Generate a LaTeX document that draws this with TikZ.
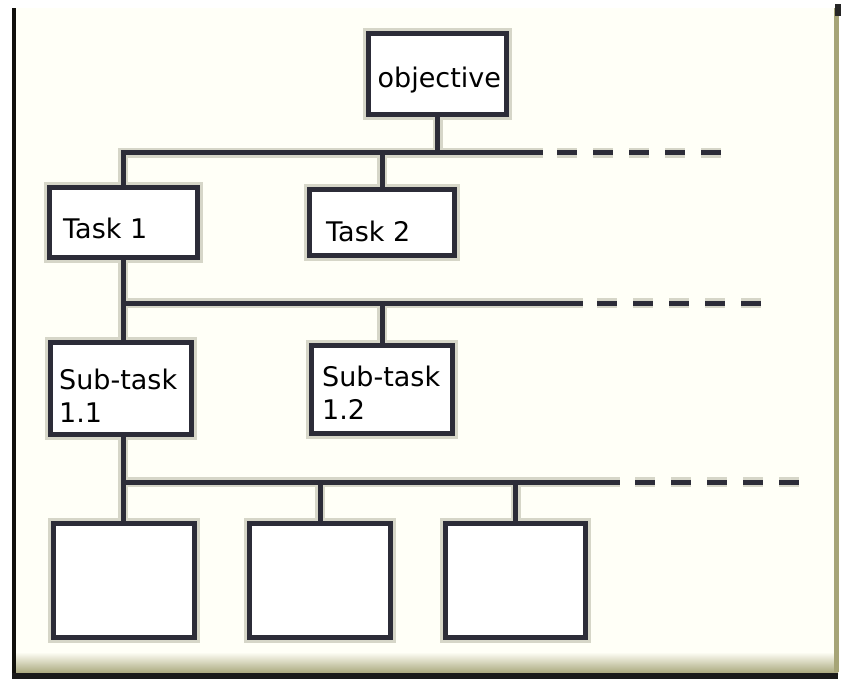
\documentclass[tikz,border=0pt]{standalone}
\usepackage{fontspec}
\setmainfont{DejaVu Sans}
\usetikzlibrary{positioning}

\definecolor{wirecol}{HTML}{2C2C38}
\definecolor{halocol}{HTML}{D6D6C8}
\definecolor{paper}{HTML}{FFFFF7}
\definecolor{olivebar}{HTML}{A6A477}

\begin{document}
\begin{tikzpicture}[x=1pt, y=-1pt, box/.style={rectangle, draw=wirecol, fill=white, line width=5pt, inner sep=0pt, minimum width=141pt, preaction={draw=halocol, line width=11pt}}, wire/.style={draw=wirecol, line width=5pt, preaction={draw=halocol, line width=10pt}}, dashwire/.style={draw=wirecol, line width=5pt, dash pattern=on 20pt off 16pt, preaction={draw=halocol, line width=10pt, dash pattern=on 20pt off 16pt}}, txt/.style={inner sep=0pt, anchor=base west, align=left, font=\fontsize{27}{33}\selectfont}]
	\useasboundingbox (0,0) rectangle (841,679);

	% sheet
	\fill[white] (0,0) rectangle (841,679);
	\fill[paper] (14,8) rectangle (838,674);
	\shade[top color=paper, bottom color=olivebar] (14,652) rectangle (838,674);
	\fill[olivebar] (834,8) rectangle (839,672);
	\fill[black!85] (835,4) rectangle (841,16);
	\fill[black!90!olivebar] (12,8) rectangle (16,679);
	\fill[black!90] (12,673) rectangle (838,679);

	% boxes
	\node[box, minimum width=138pt, minimum height=81pt] (obj) at (437.5,74) {}; %
	\node[box, minimum width=148pt, minimum height=70pt] (task1) at (123,222.5) {}; %
	\node[box, minimum width=145pt, minimum height=66pt] (task2) at (382,222.5) {}; %
	\node[box, minimum height=92pt] (sub11) at (121,388.5) {}; %
	\node[box, minimum height=88pt] (sub12) at (382,389.5) {}; %
	\node[box, minimum height=114pt] (leaf1) at (124,580.5) {}; %
	\node[box, minimum height=114pt] (leaf2) at (320,580.5) {}; %
	\node[box, minimum width=140pt, minimum height=114pt] (leaf3) at (515.5,580.5) {}; %

	% texts (base = last line)
	\node[txt] (objtxt) at (377.5,88) {objective}; %
	\node[txt] (task1txt) at (63,239) {Task 1}; %
	\node[txt] (task2txt) at (326,242) {Task 2}; %
	\node[txt] (sub11txt) at (59,422) {Sub-task\\1.1}; %
	\node[txt] (sub12txt) at (322,419) {Sub-task\\1.2}; %

	% bus ends
	\coordinate (bus1) at (543,153);
	\coordinate (bus2) at (583,303);
	\coordinate (bus3) at (620,482);

	% edges
	\draw[wire] (task1.north) |- (bus1)
		(obj.south) -- (obj.south |- bus1)
		(task2.north) -- (task2.north |- bus1)
		(task1.south) -- (task1.south |- sub11.north)
		(task1.south |- bus2) -- (bus2)
		(sub12.north) -- (sub12.north |- bus2)
		(sub11.south -| task1.south) -- (leaf1.north -| task1.south)
		(task1.south |- bus3) -- (bus3)
		(leaf2.north) -- (leaf2.north |- bus3)
		(leaf3.north) -- (leaf3.north |- bus3);
	\draw[dashwire] ([xshift=14pt]bus1) -- +(165,0);
	\draw[dashwire] ([xshift=14pt]bus2) -- +(164,0);
	\draw[dashwire] ([xshift=15pt]bus3) -- +(164,0);
\end{tikzpicture}
\end{document}
